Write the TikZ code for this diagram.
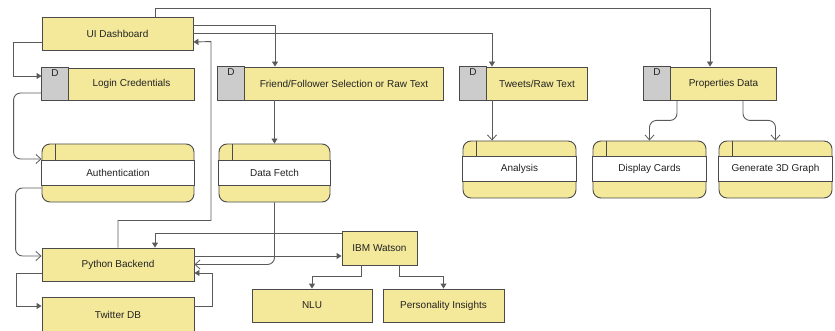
\documentclass[tikz,border=0pt]{standalone}
\usepackage{fontspec}
\setmainfont{Liberation Sans}
\usetikzlibrary{arrows.meta,calc}
\definecolor{yel}{HTML}{F4E99B}
\definecolor{dgrey}{HTML}{CCCCCC}
\definecolor{bd}{HTML}{4A4A4A}
\definecolor{ln}{HTML}{5A5A5A}
\definecolor{tx}{HTML}{222222}
\tikzset{
  box/.style={draw=bd, fill=yel, line width=0.9pt, inner sep=0pt, text=tx,
    font=\fontsize{10}{12}\selectfont},
  proc/.style={box, rounded corners=8pt},
  conn/.style={draw=ln, line width=0.9pt},
  fa/.style={-{Triangle[width=6pt,length=5pt]}},
  oa/.style={-{Straight Barb[width=9pt,length=5pt,line width=0.8pt]}, rounded corners=7pt},
  lbl/.style={inner sep=0pt, text=tx, font=\fontsize{10}{12}\selectfont},
  dlbl/.style={inner sep=0pt, text=tx, font=\fontsize{10}{12}\selectfont},
}
\begin{document}
\begin{tikzpicture}[x=1pt,y=-1pt]
\useasboundingbox (0,0) rectangle (835,331);
% ---------- plain boxes
\node[box, minimum width=151, minimum height=33] (ui) at (117.5,33.5) {UI Dashboard};
\node[box, minimum width=152, minimum height=33] (pb) at (118,264.5) {Python Backend};
\node[box, minimum width=152, minimum height=36] (tdb) at (118,315) {Twitter DB};
\node[box, minimum width=75, minimum height=34] (ibm) at (379.5,248) {IBM Watson};
\node[box, minimum width=120, minimum height=33] (nlu) at (312,305.5) {NLU};
\node[box, minimum width=121, minimum height=33] (pi) at (443.5,305.5) {Personality Insights};
% ---------- data stores
\node[box, minimum width=152, minimum height=32] (login) at (118,84) {};
\node[box, minimum width=225, minimum height=33] (ff) at (330.5,83.5) {};
\node[box, minimum width=127, minimum height=33] (tw) at (523.5,83.5) {};
\node[box, minimum width=132, minimum height=33] (pd) at (710,83.5) {};
\foreach \s/\t in {login/Login Credentials, ff/Friend\slash Follower Selection or Raw Text, tw/Tweets\slash Raw Text, pd/Properties Data}{
  \filldraw[fill=dgrey, draw=bd, line width=0.9pt] (\s.north west) rectangle ($(\s.south west)+(27,0)$);
  \node[dlbl] at ($(\s.north west)+(13.5,6)$) {D};
  \node[lbl] at ($(\s.center)+(13.5,0)$) {\t};
}
% ---------- processes
\node[proc, minimum width=152, minimum height=58] (auth) at (118,173) {};
\node[proc, minimum width=111, minimum height=58] (df) at (274.5,173) {};
\node[proc, minimum width=113, minimum height=57] (an) at (519.5,169.5) {};
\node[proc, minimum width=113, minimum height=57] (dc) at (649.5,169.5) {};
\node[proc, minimum width=113, minimum height=57] (g3) at (775.5,169.5) {};
\foreach \s/\t/\a/\b in {auth/Authentication/17/42, df/Data Fetch/17/42, an/Analysis/16/41, dc/Display Cards/16/41, g3/Generate 3D Graph/16/41}{
  \filldraw[fill=white, draw=bd, line width=0.9pt] ($(\s.north west)+(0,\a)$) rectangle ($(\s.north east)+(0,\b)$);
  \draw[draw=bd, line width=0.9pt] ($(\s.north west)+(13.5,0)$) -- ($(\s.north west)+(13.5,\a)$);
  \node[lbl] at ($(\s.north)+(0,{(\a+\b)/2})$) {\t};
}
% ---------- connectors
\draw[conn,fa] ([xshift=37.5pt]ui.north) -- ++(0,-8) -| (pd.north);
\draw[conn,fa] ([yshift=8.5pt]ui.east) -| ([xshift=-55.5pt]ff.north);
\draw[conn,fa] (ui.east) -| ([xshift=-31.5pt]tw.north);
\draw[conn,fa] (pb.north) -- ++(0,-27) -| ++(93,-179) -- ([yshift=-8.5pt]ui.east);
\draw[conn,fa] ([yshift=-8.5pt]ui.west) -- ++(-28,0) |- ([yshift=8pt]login.west);
\draw[conn,oa] ([yshift=-9pt]login.west) -- ++(-28,0) |- ([yshift=14pt]auth.west);
\draw[conn,oa] ([yshift=-15pt]auth.west) -- ++(-26,0) |- ([yshift=8.5pt]pb.west);
\draw[conn,fa] ([yshift=-8.5pt]pb.west) -- ++(-25,0) |- ([yshift=9pt]tdb.west);
\draw[conn,fa] ([yshift=9pt]tdb.east) -- ++(18,0) |- ([yshift=-8.5pt]pb.east);
\draw[conn,fa] (df.north |- ff.south) -- (df.north);
\draw[conn,oa] (df.south) |- (pb.east);
\draw[conn,fa] ([yshift=15pt]ibm.west) -| ([xshift=37pt]pb.north);
\draw[conn,fa] ([yshift=8.5pt]pb.east) -- ([yshift=-8pt]ibm.west);
\draw[conn,fa] ([xshift=-18.5pt]ibm.south) -- ++(0,11) -| (nlu.north);
\draw[conn,fa] ([xshift=19.5pt]ibm.south) -- ++(0,11) -| (pi.north);
\draw[conn,oa] ([xshift=-31.5pt]tw.south) -- ([xshift=-27.5pt]an.north);
\draw[conn,oa] ([xshift=-33pt]pd.south) -- ++(0,20) -| (dc.north);
\draw[conn,oa] ([xshift=33pt]pd.south) -- ++(0,20) -| (g3.north);
\end{tikzpicture}
\end{document}
